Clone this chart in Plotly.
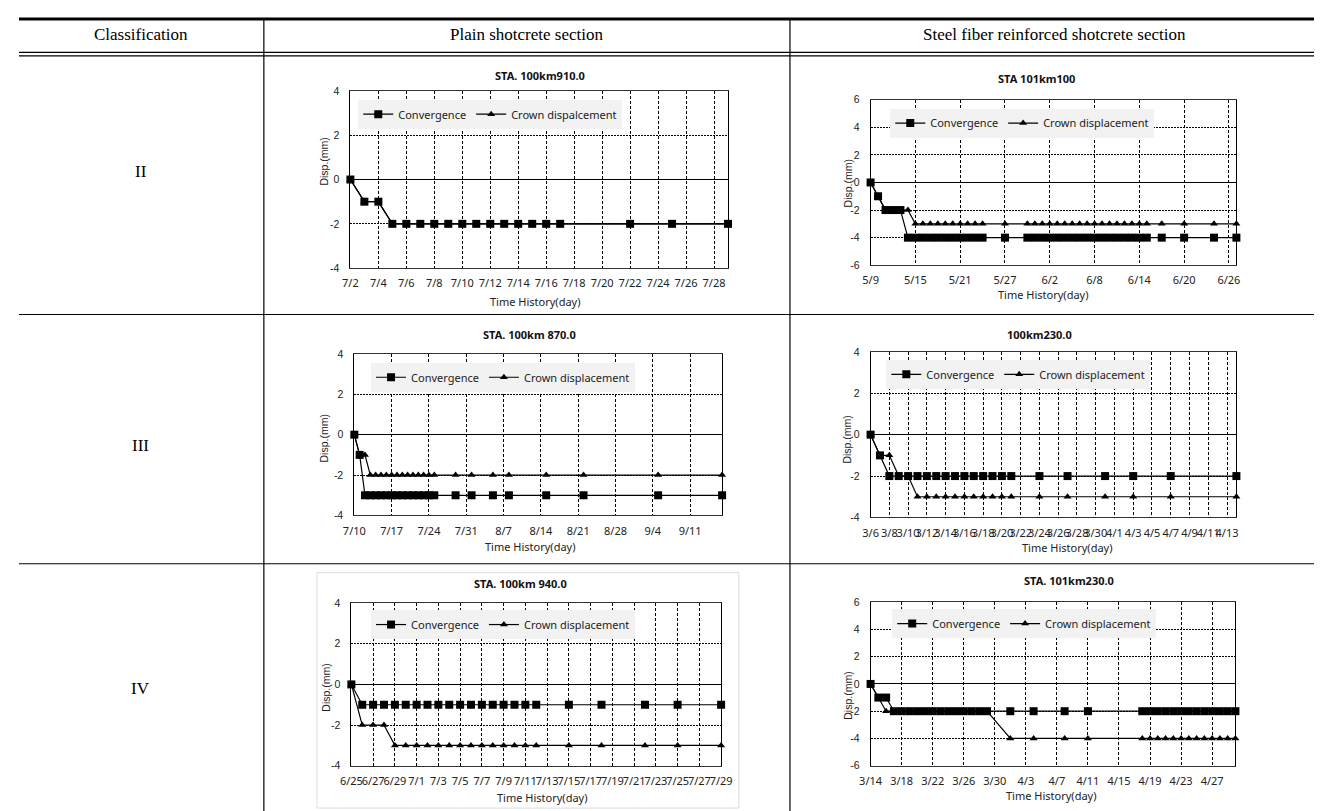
import pandas as pd
import plotly.graph_objects as go

W, H = 1322, 811
YEAR = 2013

# ---------------- text ----------------
header_labels = ["Classification", "Plain shotcrete section", "Steel fiber reinforced shotcrete section"]
row_labels = ["II", "III", "IV"]
x_title = "Time History(day)"
y_title = "Disp.(mm)"
conv_name = "Convergence"

# ---------------- data ----------------
c1_title = "STA. 100km910.0"
c1_crown_name = "Crown dispalcement"
c1_dates = ["7/2", "7/3", "7/4", "7/5", "7/6", "7/7", "7/8", "7/9", "7/10", "7/11",
            "7/12", "7/13", "7/14", "7/15", "7/16", "7/17", "7/22", "7/25", "7/29"]
c1_conv = [0, -1, -1, -2, -2, -2, -2, -2, -2, -2, -2, -2, -2, -2, -2, -2, -2, -2, -2]
c1_crown = [0, -1, -1, -2, -2, -2, -2, -2, -2, -2, -2, -2, -2, -2, -2, -2, -2, -2, -2]
c1_xrange = ["7/2", "7/29"]
c1_step = 2
c1_yticks = [-4, -2, 0, 2, 4]

c2_title = "STA 101km100"
c2_crown_name = "Crown displacement"
c2_dates = ["5/9", "5/10", "5/11", "5/12", "5/13", "5/14", "5/15", "5/16", "5/17", "5/18",
            "5/19", "5/20", "5/21", "5/22", "5/23", "5/24", "5/27", "5/30", "5/31", "6/1",
            "6/2", "6/3", "6/4", "6/5", "6/6", "6/7", "6/8", "6/9", "6/10", "6/11",
            "6/12", "6/13", "6/14", "6/15", "6/17", "6/20", "6/24", "6/27"]
c2_conv = [0, -1, -2, -2, -2, -4, -4, -4, -4, -4,
           -4, -4, -4, -4, -4, -4, -4, -4, -4, -4,
           -4, -4, -4, -4, -4, -4, -4, -4, -4, -4,
           -4, -4, -4, -4, -4, -4, -4, -4]
c2_crown = [0, -1, -2, -2, -2, -2, -3, -3, -3, -3,
            -3, -3, -3, -3, -3, -3, -3, -3, -3, -3,
            -3, -3, -3, -3, -3, -3, -3, -3, -3, -3,
            -3, -3, -3, -3, -3, -3, -3, -3]
c2_xrange = ["5/9", "6/27"]
c2_step = 6
c2_yticks = [-6, -4, -2, 0, 2, 4, 6]

c3_title = "STA. 100km 870.0"
c3_crown_name = "Crown displacement"
c3_dates = ["7/10", "7/11", "7/12", "7/13", "7/14", "7/15", "7/16", "7/17", "7/18", "7/19",
            "7/20", "7/21", "7/22", "7/23", "7/24", "7/25", "7/29", "8/1", "8/5", "8/8",
            "8/15", "8/22", "9/5", "9/17"]
c3_conv = [0, -1, -3, -3, -3, -3, -3, -3, -3, -3,
           -3, -3, -3, -3, -3, -3, -3, -3, -3, -3,
           -3, -3, -3, -3]
c3_crown = [0, -1, -1, -2, -2, -2, -2, -2, -2, -2,
            -2, -2, -2, -2, -2, -2, -2, -2, -2, -2,
            -2, -2, -2, -2]
c3_xrange = ["7/10", "9/17"]
c3_step = 7
c3_yticks = [-4, -2, 0, 2, 4]

c4_title = "100km230.0"
c4_crown_name = "Crown displacement"
c4_dates = ["3/6", "3/7", "3/8", "3/9", "3/10", "3/11", "3/12", "3/13", "3/14", "3/15",
            "3/16", "3/17", "3/18", "3/19", "3/20", "3/21", "3/24", "3/27", "3/31", "4/3",
            "4/7", "4/14"]
c4_conv = [0, -1, -2, -2, -2, -2, -2, -2, -2, -2,
           -2, -2, -2, -2, -2, -2, -2, -2, -2, -2,
           -2, -2]
c4_crown = [0, -1, -1, -2, -2, -3, -3, -3, -3, -3,
            -3, -3, -3, -3, -3, -3, -3, -3, -3, -3,
            -3, -3]
c4_xrange = ["3/6", "4/14"]
c4_step = 2
c4_yticks = [-4, -2, 0, 2, 4]

c5_title = "STA. 100km 940.0"
c5_crown_name = "Crown displacement"
c5_dates = ["6/25", "6/26", "6/27", "6/28", "6/29", "6/30", "7/1", "7/2", "7/3", "7/4",
            "7/5", "7/6", "7/7", "7/8", "7/9", "7/10", "7/11", "7/12", "7/15", "7/18",
            "7/22", "7/25", "7/29"]
c5_conv = [0, -1, -1, -1, -1, -1, -1, -1, -1, -1,
           -1, -1, -1, -1, -1, -1, -1, -1, -1, -1,
           -1, -1, -1]
c5_crown = [0, -2, -2, -2, -3, -3, -3, -3, -3, -3,
            -3, -3, -3, -3, -3, -3, -3, -3, -3, -3,
            -3, -3, -3]
c5_xrange = ["6/25", "7/29"]
c5_step = 2
c5_yticks = [-4, -2, 0, 2, 4]

c6_title = "STA. 101km230.0"
c6_crown_name = "Crown displacement"
c6_dates = ["3/14", "3/15", "3/16", "3/17", "3/18", "3/19", "3/20", "3/21", "3/22", "3/23",
            "3/24", "3/25", "3/26", "3/27", "3/28", "3/29", "4/1", "4/4", "4/8", "4/11",
            "4/18", "4/19", "4/20", "4/21", "4/22", "4/23", "4/24", "4/25", "4/26", "4/27",
            "4/28", "4/29", "4/30"]
c6_conv = [0, -1, -1, -2, -2, -2, -2, -2, -2, -2,
           -2, -2, -2, -2, -2, -2, -2, -2, -2, -2,
           -2, -2, -2, -2, -2, -2, -2, -2, -2, -2,
           -2, -2, -2]
c6_crown = [0, -1, -2, -2, -2, -2, -2, -2, -2, -2,
            -2, -2, -2, -2, -2, -2, -4, -4, -4, -4,
            -4, -4, -4, -4, -4, -4, -4, -4, -4, -4,
            -4, -4, -4]
c6_xrange = ["3/14", "4/30"]
c6_step = 4
c6_yticks = [-6, -4, -2, 0, 2, 4, 6]

charts = [
    dict(title=c1_title, crown_name=c1_crown_name, dates=c1_dates, conv=c1_conv, crown=c1_crown,
         xrange=c1_xrange, step=c1_step, yticks=c1_yticks),
    dict(title=c2_title, crown_name=c2_crown_name, dates=c2_dates, conv=c2_conv, crown=c2_crown,
         xrange=c2_xrange, step=c2_step, yticks=c2_yticks),
    dict(title=c3_title, crown_name=c3_crown_name, dates=c3_dates, conv=c3_conv, crown=c3_crown,
         xrange=c3_xrange, step=c3_step, yticks=c3_yticks),
    dict(title=c4_title, crown_name=c4_crown_name, dates=c4_dates, conv=c4_conv, crown=c4_crown,
         xrange=c4_xrange, step=c4_step, yticks=c4_yticks),
    dict(title=c5_title, crown_name=c5_crown_name, dates=c5_dates, conv=c5_conv, crown=c5_crown,
         xrange=c5_xrange, step=c5_step, yticks=c5_yticks),
    dict(title=c6_title, crown_name=c6_crown_name, dates=c6_dates, conv=c6_conv, crown=c6_crown,
         xrange=c6_xrange, step=c6_step, yticks=c6_yticks),
]

# ---------------- layout geometry (pixels) ----------------
plot_boxes = [  # left, top, right, bottom
    (337, 78, 721, 258),
    (866, 87, 1238, 255),
    (341, 345, 715, 509),
    (866, 343, 1238, 511),
    (338, 598, 714, 763),
    (866, 597, 1237, 763),
]
title_pos = [(530, 62), (1035, 65), (519, 325), (1038, 325), (510, 578), (1068, 575)]
xtitle_pos = [(525, 292), (1042, 285), (520, 540), (1066, 542), (532, 795), (1050, 793)]
ytitle_pos = [(310, 150), (843, 172), (310, 431), (842, 432), (312, 684), (843, 692)]
legend_pos = [(345, 87), (886, 96), (358, 354), (882, 351), (358, 605), (888, 604)]


def px(x):
    return x / W


def py(y):
    return 1 - y / H


def to_date(md):
    return pd.to_datetime(f"{YEAR}/{md}", format="%Y/%m/%d").strftime("%Y-%m-%d")


CHART_FONT = "Noto Sans, Open Sans, sans-serif"
NUM_FONT = "Liberation Sans, Arial, sans-serif"
SERIF = "Liberation Serif, Times New Roman, serif"

fig = go.Figure()
layout = dict(
    width=W, height=H,
    margin=dict(l=0, r=0, t=0, b=0),
    paper_bgcolor="white", plot_bgcolor="white",
    annotations=[], shapes=[],
)

for i, ch in enumerate(charts):
    n = i + 1
    xs = "x" if n == 1 else f"x{n}"
    ys = "y" if n == 1 else f"y{n}"
    lid = "legend" if n == 1 else f"legend{n}"
    dates = [to_date(d) for d in ch["dates"]]

    fig.add_trace(go.Scatter(
        x=dates, y=ch["crown"], name=ch["crown_name"], mode="lines+markers",
        line=dict(color="black", width=1.2),
        marker=dict(symbol="triangle-up", size=7, color="black"),
        xaxis=xs, yaxis=ys, legend=lid, legendrank=2, cliponaxis=False,
    ))
    fig.add_trace(go.Scatter(
        x=dates, y=ch["conv"], name=conv_name, mode="lines+markers",
        line=dict(color="black", width=1.2),
        marker=dict(symbol="square", size=8, color="black"),
        xaxis=xs, yaxis=ys, legend=lid, legendrank=1, cliponaxis=False,
    ))

    l, t, r, b = plot_boxes[i]
    x0 = to_date(ch["xrange"][0])
    x1 = to_date(ch["xrange"][1])
    layout["xaxis" if n == 1 else f"xaxis{n}"] = dict(
        domain=[px(l), px(r)], anchor=ys, type="date",
        range=[x0, x1], tick0=x0, dtick=ch["step"] * 86400000,
        tickformat="%-m/%-d", tickangle=0,
        tickfont=dict(family=CHART_FONT, size=11, color="#222"),
        showgrid=True, gridcolor="#000", griddash="3px,2px", gridwidth=0.8,
        showline=True, linecolor="#333", linewidth=1, mirror=True,
        ticks="", zeroline=False, ticklabelstandoff=5, fixedrange=True,
    )
    yt = ch["yticks"]
    layout["yaxis" if n == 1 else f"yaxis{n}"] = dict(
        domain=[py(b), py(t)], anchor=xs,
        range=[yt[0], yt[-1]], tickvals=yt, ticktext=[str(v) for v in yt],
        tickfont=dict(family=NUM_FONT, size=10.5, color="#222"),
        showgrid=True, gridcolor="#000", griddash="2px,1px", gridwidth=0.8,
        zeroline=True, zerolinecolor="#000", zerolinewidth=1,
        showline=True, linecolor="#000", linewidth=1, mirror=True,
        ticks="", ticklabelstandoff=8, fixedrange=True,
    )
    lx, ly = legend_pos[i]
    layout[lid] = dict(
        x=px(lx), y=py(ly), xref="paper", yref="paper",
        xanchor="left", yanchor="top", orientation="h",
        bgcolor="#f2f2f2", borderwidth=0,
        font=dict(family=CHART_FONT, size=11, color="#222"),
        itemwidth=30, tracegroupgap=0,
    )
    tx, ty = title_pos[i]
    layout["annotations"].append(dict(
        x=px(tx), y=py(ty), xref="paper", yref="paper", showarrow=False,
        text=f"<b>{ch['title']}</b>", font=dict(family=CHART_FONT, size=11, color="#111"),
        xanchor="center", yanchor="middle"))
    tx, ty = xtitle_pos[i]
    layout["annotations"].append(dict(
        x=px(tx), y=py(ty), xref="paper", yref="paper", showarrow=False,
        text=x_title, font=dict(family=CHART_FONT, size=11, color="#222"),
        xanchor="center", yanchor="middle"))
    tx, ty = ytitle_pos[i]
    layout["annotations"].append(dict(
        x=px(tx), y=py(ty), xref="paper", yref="paper", showarrow=False,
        text=y_title, textangle=-90, font=dict(family=NUM_FONT, size=10.5, color="#222"),
        xanchor="center", yanchor="middle"))

# ---------------- table ----------------
col_lines = [249, 784]
header_centers = [124, 516, 1053]
row_centers = [160, 438, 685]
row_seps = [305, 558]


def hline(y, w):
    return dict(type="line", xref="paper", yref="paper", x0=0, x1=1, y0=py(y), y1=py(y),
                line=dict(color="black", width=w))


layout["shapes"].append(hline(5, 3))
layout["shapes"].append(hline(39, 1.2))
layout["shapes"].append(hline(42.5, 1.2))
for y in row_seps:
    layout["shapes"].append(hline(y, 1.2))
for x in col_lines:
    layout["shapes"].append(dict(type="line", xref="paper", yref="paper", x0=px(x), x1=px(x),
                                 y0=py(5), y1=0, line=dict(color="black", width=1.2)))
# faint frame around the embedded chart in row IV
layout["shapes"].append(dict(type="rect", xref="paper", yref="paper",
                             x0=px(303), x1=px(732), y0=py(806), y1=py(567),
                             line=dict(color="#dcdcdc", width=1)))

for text, cx in zip(header_labels, header_centers):
    layout["annotations"].append(dict(
        x=px(cx), y=py(21), xref="paper", yref="paper", showarrow=False, text=text,
        font=dict(family=SERIF, size=17, color="black"), xanchor="center", yanchor="middle"))
for text, cy in zip(row_labels, row_centers):
    layout["annotations"].append(dict(
        x=px(124), y=py(cy), xref="paper", yref="paper", showarrow=False, text=text,
        font=dict(family=SERIF, size=17, color="black"), xanchor="center", yanchor="middle"))

fig.update_layout(**layout)
fig.write_html("out.html")
